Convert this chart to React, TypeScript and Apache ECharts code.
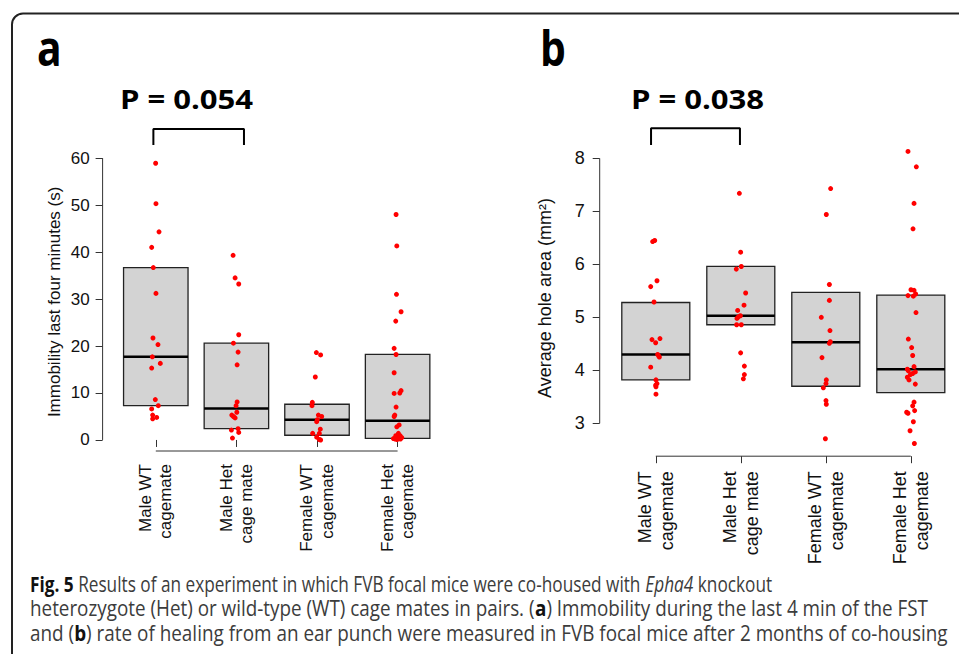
import React, { useEffect, useRef } from "react";
import * as echarts from "echarts";

// ---------- data ----------
const categories = [
  "Male WT\ncagemate",
  "Male Het\ncage mate",
  "Female WT\ncagemate",
  "Female Het\ncagemate",
];

// Panel a: immobility last four minutes (s)
const aTicks = [0, 10, 20, 30, 40, 50, 60];
const aMaleWT = [58.9, 50.3, 44.3, 41.0, 36.7, 31.2, 21.7, 20.3, 17.7, 16.3, 15.3, 8.6, 7.3, 6.6, 5.3, 4.8, 4.5];
const aMaleWTJit = [-0.002, 0.002, 0.04, -0.051, -0.031, 0.002, -0.035, 0.027, -0.043, 0.056, -0.051, -0.006, 0.031, -0.051, -0.039, 0.011, -0.039];
const aMaleHet = [39.3, 34.5, 33.2, 22.4, 20.6, 18.7, 16.0, 8.1, 7.3, 5.9, 5.3, 5.0, 4.7, 2.4, 2.1, 1.6, 0.4];
const aMaleHetJit = [-0.041, -0.016, 0.029, 0.029, -0.037, 0.021, 0.009, 0.009, -0.004, 0.005, -0.057, -0.037, -0.016, 0.021, -0.062, 0.029, -0.049];
const aFemWT = [18.6, 18.1, 13.4, 8.0, 7.3, 5.3, 5.0, 4.3, 3.9, 2.3, 1.4, 1.4, 0.6, 0.0, 0.1];
const aFemWTJit = [-0.008, 0.045, -0.021, -0.058, -0.062, 0.017, 0.058, 0.004, -0.004, 0.041, -0.054, 0.029, -0.004, 0.045, 0.029];
const aFemHet = [48.0, 41.3, 31.0, 27.3, 25.3, 19.5, 18.2, 14.3, 9.9, 10.0, 10.5, 7.0, 5.3, 5.0, 3.2, 2.8, 1.4, 0.9, 0.9, 0.5, 0.3, 0.1, 0.3, 0.2, 0.7, 0.2];
const aFemHetJit = [-0.019, -0.01, -0.014, 0.043, -0.023, -0.043, -0.019, -0.043, -0.043, 0.027, 0.043, -0.019, -0.035, -0.043, 0.019, -0.01, 0.01, -0.023, 0.031, 0.052, -0.052, -0.006, 0.023, -0.031, 0.006, 0.035];
// [Q1, median, Q3]
const aBoxes = [
  [7.3, 17.7, 36.7],
  [2.4, 6.7, 20.6],
  [1.0, 4.3, 7.6],
  [0.35, 4.1, 18.2],
];

// Panel b: average hole area (mm2)
const bTicks = [3, 4, 5, 6, 7, 8];
const bMaleWT = [6.45, 6.43, 5.69, 5.58, 5.29, 4.58, 4.6, 4.52, 4.3, 4.27, 4.25, 4.06, 3.82, 3.75, 3.72, 3.69, 3.55];
const bMaleWTJit = [-0.013, -0.037, 0.014, -0.06, -0.021, -0.045, 0.049, -0.002, 0.022, 0.034, 0.042, -0.06, 0.002, 0.014, -0.002, 0.002, 0.002];
const bMaleHet = [7.34, 6.23, 5.96, 5.91, 5.46, 5.23, 5.13, 5.03, 5.01, 4.98, 4.86, 4.86, 4.33, 4.08, 3.92, 3.84];
const bMaleHetJit = [-0.017, -0.002, 0.006, -0.053, 0.057, 0.038, -0.037, -0.005, -0.029, -0.045, 0.006, -0.049, -0.002, 0.042, 0.042, 0.03];
const bFemWT = [7.43, 6.94, 5.62, 5.32, 5.0, 4.75, 4.54, 4.51, 4.24, 3.82, 3.75, 3.67, 3.43, 3.36, 2.71];
const bFemWTJit = [0.057, 0.006, 0.042, 0.042, -0.053, 0.049, 0.053, 0.042, -0.045, 0.006, 0.002, -0.029, 0.002, 0.006, -0.005];
const bFemHet = [8.13, 7.84, 7.15, 6.67, 5.52, 5.51, 5.41, 5.4, 5.44, 5.09, 4.59, 4.43, 4.28, 4.07, 4.02, 3.99, 3.97, 3.94, 3.92, 3.87, 3.82, 3.74, 3.4, 3.33, 3.24, 3.21, 3.19, 3.03, 2.86, 2.62];
const bFemHetJit = [-0.033, 0.065, 0.038, 0.026, 0.002, 0.038, -0.033, 0.03, 0.057, 0.061, -0.029, 0.01, 0.022, 0.038, -0.041, -0.029, 0.053, 0.022, -0.005, -0.041, -0.021, 0.053, 0.038, 0.022, 0.045, -0.049, -0.033, 0.03, -0.009, 0.042];
const bBoxes = [
  [3.82, 4.3, 5.28],
  [4.86, 5.03, 5.96],
  [3.7, 4.53, 5.47],
  [3.58, 4.02, 5.42],
];

const pValues = ["P = 0.054", "P = 0.038"];
const panelLetters = ["a", "b"];
const captionLines = [
  "{b|Fig. 5} Results of an experiment in which FVB focal mice were co-housed with {i|Epha4} knockout",
  "heterozygote (Het) or wild-type (WT) cage mates in pairs. ({bb|a}) Immobility during the last 4 min of the FST",
  "and ({bb|b}) rate of healing from an ear punch were measured in FVB focal mice after 2 months of co-housing",
];

// ---------- helpers ----------
const FONT = "'Liberation Sans', Arial, Helvetica, sans-serif";
const AXIS_COLOR = "#333";

function scatterData(vals: number[], jit: number[], cat: number) {
  return vals.map((v, i) => [cat + jit[i], v]);
}

function boxRender(params: any, api: any) {
  const x = api.value(0);
  const q1 = api.value(1);
  const med = api.value(2);
  const q3 = api.value(3);
  const tl = api.coord([x - 0.4, q3]);
  const br = api.coord([x + 0.4, q1]);
  const ml = api.coord([x - 0.4, med]);
  const mr = api.coord([x + 0.4, med]);
  return {
    type: "group",
    children: [
      {
        type: "rect",
        shape: { x: tl[0], y: tl[1], width: br[0] - tl[0], height: br[1] - tl[1] },
        style: { fill: "#d3d3d3", stroke: "#222", lineWidth: 1.3 },
      },
      {
        type: "line",
        shape: { x1: ml[0], y1: ml[1], x2: mr[0], y2: mr[1] },
        style: { stroke: "#000", lineWidth: 2.6 },
      },
    ],
  };
}

function panelSeries(
  gi: number,
  boxes: number[][],
  groups: number[][][],
  yAxisSpan: number[],
  yMin: number,
  xMin: number,
  bracket: number[][]
) {
  const series: any[] = [];
  series.push({
    type: "custom",
    xAxisIndex: gi,
    yAxisIndex: gi,
    renderItem: boxRender,
    encode: { x: 0, y: [1, 2, 3] },
    data: boxes.map((b, i) => [i + 1, b[0], b[1], b[2]]),
    z: 1,
    silent: true,
  });
  groups.forEach((g) => {
    series.push({
      type: "scatter",
      xAxisIndex: gi,
      yAxisIndex: gi,
      data: g,
      symbol: "circle",
      symbolSize: 5,
      itemStyle: { color: "#ff0000", opacity: 1 },
      z: 3,
      silent: true,
    });
  });
  // y axis line (from lowest to highest tick, R style)
  series.push({
    type: "line",
    xAxisIndex: gi,
    yAxisIndex: gi,
    data: [
      [xMin, yAxisSpan[0]],
      [xMin, yAxisSpan[1]],
    ],
    symbol: "none",
    clip: false,
    lineStyle: { color: AXIS_COLOR, width: 1 },
    z: 2,
    silent: true,
  });
  // x axis line (from first to last category)
  series.push({
    type: "line",
    xAxisIndex: gi,
    yAxisIndex: gi,
    data: [
      [1, yMin],
      [4, yMin],
    ],
    symbol: "none",
    clip: false,
    lineStyle: { color: AXIS_COLOR, width: 1 },
    z: 2,
    silent: true,
  });
  // significance bracket
  series.push({
    type: "line",
    xAxisIndex: gi,
    yAxisIndex: gi,
    data: bracket,
    symbol: "none",
    clip: false,
    lineStyle: { color: "#000", width: 2 },
    z: 2,
    silent: true,
  });
  return series;
}

function yAxisDef(gi: number, min: number, max: number, ticks: number[], name: string, nameGap: number, fontSize: number, margin: number) {
  return {
    type: "value",
    gridIndex: gi,
    min,
    max,
    name,
    nameLocation: "middle",
    nameGap,
    nameTextStyle: { fontFamily: FONT, fontSize, color: "#111" },
    axisLine: { show: false },
    splitLine: { show: false },
    axisTick: { show: true, customValues: ticks, length: 7, lineStyle: { color: AXIS_COLOR, width: 1 } },
    axisLabel: {
      show: true,
      customValues: ticks,
      margin,
      fontFamily: FONT,
      fontSize,
      color: "#111",
    },
  };
}

function xAxisDef(gi: number, min: number, max: number, fontSize: number, margin: number) {
  return {
    type: "value",
    gridIndex: gi,
    min,
    max,
    axisLine: { show: false },
    splitLine: { show: false },
    axisTick: { show: true, customValues: [1, 2, 3, 4], length: 7, lineStyle: { color: AXIS_COLOR, width: 1 } },
    axisLabel: {
      show: true,
      customValues: [1, 2, 3, 4],
      rotate: 90,
      margin,
      fontFamily: FONT,
      fontSize,
      lineHeight: fontSize * 1.2,
      color: "#111",
      formatter: (v: number) => categories[Math.round(v) - 1] || "",
    },
  };
}

export default function App() {
  const ref = useRef<HTMLDivElement>(null);
  useEffect(() => {
    if (!ref.current) return;
    const chart = echarts.init(ref.current, undefined, { renderer: "svg" });

    const aGroups = [
      scatterData(aMaleWT, aMaleWTJit, 1),
      scatterData(aMaleHet, aMaleHetJit, 2),
      scatterData(aFemWT, aFemWTJit, 3),
      scatterData(aFemHet, aFemHetJit, 4),
    ];
    const bGroups = [
      scatterData(bMaleWT, bMaleWTJit, 1),
      scatterData(bMaleHet, bMaleHetJit, 2),
      scatterData(bFemWT, bFemWTJit, 3),
      scatterData(bFemHet, bFemHetJit, 4),
    ];

    const aYMin = -2.35;
    const aYMax = 61.15;
    const bYMin = 2.38;
    const bYMax = 8.35;
    const xMin = 0.34;

    const aBracket = [
      [0.97, 62.8],
      [0.97, 66.2],
      [2.094, 66.2],
      [2.094, 62.8],
    ];
    const bBracket = [
      [0.944, 8.25],
      [0.944, 8.57],
      [1.99, 8.57],
      [1.99, 8.25],
    ];

    const capStyle = {
      fontFamily: "'Open Sans', sans-serif",
      fontSize: 21,
      fill: "#3c3c3c",
      align: "left",
      verticalAlign: "middle",
      rich: {
        b: { fontFamily: "'Open Sans', sans-serif", fontSize: 21, fontWeight: "bold", fill: "#111" },
        bb: { fontFamily: "'Open Sans', sans-serif", fontSize: 21, fontWeight: "bold", fill: "#111" },
        i: { fontFamily: "'Open Sans', sans-serif", fontSize: 21, fontStyle: "italic", fill: "#3c3c3c" },
      },
    };
    const capScale = [0.82, 0.898, 0.9];

    const option: any = {
      animation: false,
      backgroundColor: "#ffffff",
      grid: [
        { left: 102.6, top: 152.7, width: 348.2, height: 298.3 },
        { left: 599.7, top: 139.8, width: 359.3, height: 316.4 },
      ],
      xAxis: [xAxisDef(0, xMin, 4.66, 17, 13), xAxisDef(1, xMin, 4.567, 18, 15)],
      yAxis: [
        yAxisDef(0, aYMin, aYMax, aTicks, "Immobility last four minutes (s)", 40, 17, 13),
        yAxisDef(1, bYMin, bYMax, bTicks, "Average hole area (mm\u00B2)", 45.5, 18, 15),
      ],
      series: [
        ...panelSeries(0, aBoxes, aGroups, [0, 60], aYMin, xMin, aBracket),
        ...panelSeries(1, bBoxes, bGroups, [3, 8], bYMin, xMin, bBracket),
      ],
      graphic: [
        {
          type: "rect",
          shape: { x: 12, y: 13.5, width: 980, height: 700, r: 11 },
          style: { fill: "none", stroke: "#222", lineWidth: 2 },
          silent: true,
        },
        {
          type: "text",
          x: 37,
          y: 47,
          scaleX: 0.85,
          style: { text: panelLetters[0], fontFamily: "'Open Sans', sans-serif", fontWeight: "bold", fontSize: 48, fill: "#000", align: "left", verticalAlign: "middle" },
        },
        {
          type: "text",
          x: 540,
          y: 47,
          scaleX: 0.85,
          style: { text: panelLetters[1], fontFamily: "'Open Sans', sans-serif", fontWeight: "bold", fontSize: 48, fill: "#000", align: "left", verticalAlign: "middle" },
        },
        {
          type: "text",
          x: 186.5,
          y: 99,
          scaleX: 1.15,
          style: { text: pValues[0], fontFamily: "'Open Sans', sans-serif", fontWeight: "bold", fontSize: 27, fill: "#000", align: "center", verticalAlign: "middle" },
        },
        {
          type: "text",
          x: 697.5,
          y: 99,
          scaleX: 1.15,
          style: { text: pValues[1], fontFamily: "'Open Sans', sans-serif", fontWeight: "bold", fontSize: 27, fill: "#000", align: "center", verticalAlign: "middle" },
        },
        ...captionLines.map((t, i) => ({
          type: "text",
          x: 30,
          y: 584 + i * 24.5,
          scaleX: capScale[i],
          style: { ...capStyle, text: t },
        })),
      ],
    };
    chart.setOption(option);
    return () => chart.dispose();
  }, []);
  return (
    <div
      ref={ref}
      style={{ position: "absolute", left: 0, top: 0, width: 959, height: 654, overflow: "hidden" }}
    />
  );
}
